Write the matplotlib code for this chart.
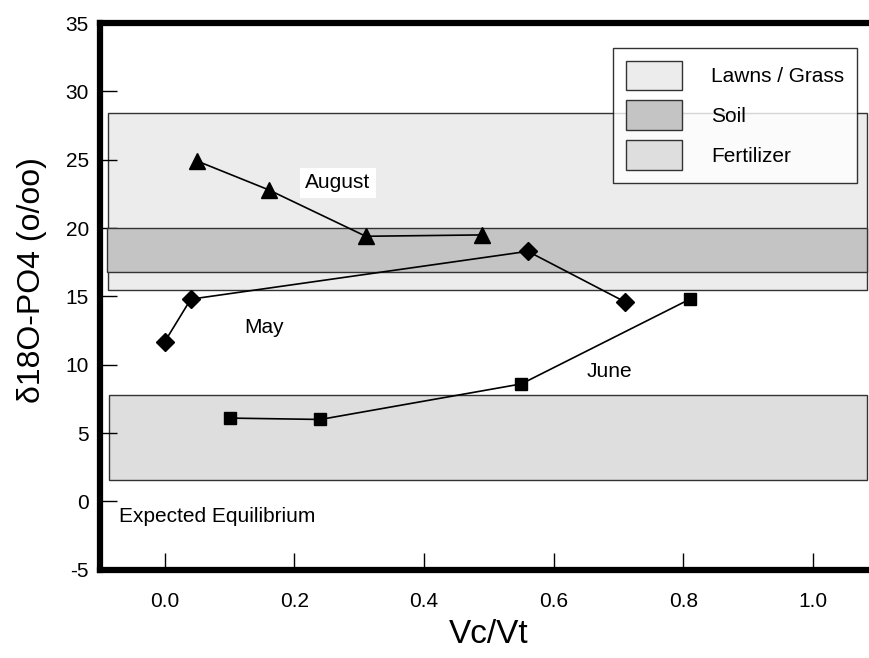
import matplotlib

matplotlib.use("Agg")

import matplotlib.pyplot as plt
from matplotlib.patches import Patch, Rectangle

plt.rcParams["font.family"] = ["Liberation Sans", "DejaVu Sans"]
plt.rcParams["axes.unicode_minus"] = False

# Data
aug_x = [0.05, 0.16, 0.31, 0.49]
aug_y = [24.9, 22.8, 19.4, 19.5]
may_x = [0.0, 0.04, 0.56, 0.71]
may_y = [11.7, 14.8, 18.3, 14.6]
jun_x = [0.10, 0.24, 0.55, 0.81]
jun_y = [6.1, 6.0, 8.6, 14.8]

band_names = ["Lawns / Grass", "Soil", "Fertilizer"]
band_lo = [15.5, 16.8, 1.6]
band_hi = [28.4, 20.0, 7.8]
band_x0 = [-0.088, -0.089, -0.086]
band_x1 = [1.083, 1.083, 1.083]
band_colors = ["#ececec", "#c4c4c4", "#dedede"]

x_ticks = [0.0, 0.2, 0.4, 0.6, 0.8, 1.0]
y_ticks = [-5, 0, 5, 10, 15, 20, 25, 30, 35]

fig = plt.figure(figsize=(8.7, 6.58), dpi=100)
ax = fig.add_axes([0.115, 0.134, 0.894, 0.831])
ax.set_xlim(-0.1, 1.1)
ax.set_ylim(-5, 35)

for name, lo, hi, x0, x1, col in zip(band_names, band_lo, band_hi, band_x0, band_x1, band_colors):
    ax.add_patch(Rectangle((x0, lo), x1 - x0, hi - lo, facecolor=col, edgecolor="#333333",
                           linewidth=1.0, zorder=1 if name != "Soil" else 2))

ax.plot(aug_x, aug_y, color="black", lw=1.2, marker="^", ms=11, zorder=5)
ax.plot(may_x, may_y, color="black", lw=1.2, marker="D", ms=9, zorder=5)
ax.plot(jun_x, jun_y, color="black", lw=1.2, marker="s", ms=9, zorder=5)

ax.text(0.267, 23.3, "August", fontsize=15, ha="center", va="center", zorder=6,
        bbox=dict(facecolor="white", edgecolor="none", pad=4))
ax.text(0.153, 12.7, "May", fontsize=15, ha="center", va="center", zorder=6)
ax.text(0.686, 9.5, "June", fontsize=15, ha="center", va="center", zorder=6)
ax.text(-0.07, -1.1, "Expected Equilibrium", fontsize=15, ha="left", va="center", zorder=6)

handles = [Patch(facecolor=c, edgecolor="#333333", linewidth=1.0) for c in band_colors]
leg = ax.legend(handles, band_names, loc="upper left", bbox_to_anchor=(0.659, 0.955),
                fontsize=15, frameon=True, fancybox=False, edgecolor="black",
                handlelength=2.7, handleheight=1.8, handletextpad=1.4,
                labelspacing=0.5, borderpad=0.62, borderaxespad=0)
leg.get_frame().set_linewidth(1.0)
leg.set_zorder(7)

ax.set_xticks(x_ticks)
ax.set_xticklabels([f"{v:.1f}" for v in x_ticks])
ax.set_yticks(y_ticks)
ax.tick_params(direction="in", length=12, width=1, labelsize=15, pad=8)
ax.tick_params(axis="x", pad=16)

for side in ["left", "bottom", "top", "right"]:
    ax.spines[side].set_linewidth(4.5)

ax.set_xlabel("Vc/Vt", fontsize=24, labelpad=6)
ax.set_ylabel("\u03b418O-PO4 (o/oo)", fontsize=23)
ax.yaxis.set_label_coords(-0.068, 0.53)

fig.savefig("out.png", dpi=100, facecolor="white")
